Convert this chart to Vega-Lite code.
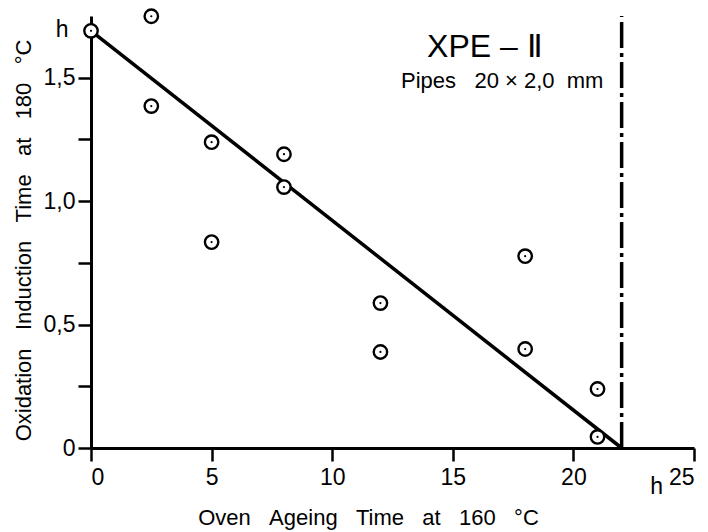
{
  "$schema": "https://vega.github.io/schema/vega-lite/v6.json",
  "autosize": "none",
  "width": 603,
  "height": 432,
  "padding": {"left": 91, "top": 16, "right": 14, "bottom": 84},
  "background": "white",
  "config": {
    "view": {"stroke": null},
    "font": "Liberation Sans",
    "axis": {
      "grid": false,
      "domainColor": "black",
      "domainWidth": 3,
      "tickColor": "black",
      "tickWidth": 2.5,
      "tickSize": 13,
      "labelColor": "black",
      "labelFont": "Liberation Sans",
      "labelFontSize": 23,
      "titleColor": "black",
      "titleFont": "Liberation Sans",
      "titleFontSize": 22,
      "titleFontWeight": "normal"
    }
  },
  "datasets": {
    "obs": [
      {"t": 0, "oit": 1.69},
      {"t": 2.5, "oit": 1.749},
      {"t": 2.5, "oit": 1.385},
      {"t": 5, "oit": 1.239},
      {"t": 5, "oit": 0.834},
      {"t": 8, "oit": 1.19},
      {"t": 8, "oit": 1.057},
      {"t": 12, "oit": 0.587},
      {"t": 12, "oit": 0.389},
      {"t": 18, "oit": 0.777},
      {"t": 18, "oit": 0.401},
      {"t": 21, "oit": 0.239},
      {"t": 21, "oit": 0.045}
    ],
    "fit": [
      {"t": 0, "oit": 1.69},
      {"t": 22, "oit": 0}
    ],
    "limit": [
      {"t": 22, "oit": 0, "oit2": 1.75}
    ],
    "labels": [
      {"t": -1.2, "oit": 1.695, "txt": "h", "size": 23},
      {"t": 23.45, "oit": -0.16, "txt": "h", "size": 23},
      {"t": 16.33, "oit": 1.625, "txt": "XPE – Ⅱ", "size": 32},
      {"t": 17.05, "oit": 1.485, "txt": "Pipes\u00a0\u00a0\u00a020 × 2,0\u00a0\u00a0mm", "size": 22}
    ]
  },
  "encoding": {
    "x": {
      "field": "t",
      "type": "quantitative",
      "scale": {"domain": [0, 25], "nice": false, "zero": false},
      "axis": {
        "values": [0, 5, 10, 15, 20, 25],
        "labelPadding": 5,
        "title": "Oven\u00a0\u00a0\u00a0Ageing\u00a0\u00a0\u00a0Time\u00a0\u00a0\u00a0at\u00a0\u00a0\u00a0160\u00a0\u00a0\u00a0°C",
        "titleX": 277,
        "titleY": 76,
        "titleAlign": "center",
        "titleBaseline": "alphabetic"
      }
    },
    "y": {
      "field": "oit",
      "type": "quantitative",
      "scale": {"domain": [0, 1.75], "nice": false, "zero": false},
      "axis": {
        "values": [0, 0.25, 0.5, 0.75, 1, 1.25, 1.5],
        "labelExpr": "datum.value == 0 ? '0' : (abs(datum.value % 0.5) < 0.001 ? replace(format(datum.value, '.1f'), '.', ',') : '')",
        "labelPadding": 3,
        "title": "Oxidation\u00a0\u00a0\u00a0Induction\u00a0\u00a0\u00a0Time\u00a0\u00a0\u00a0at\u00a0\u00a0\u00a0180\u00a0\u00a0\u00a0°C",
        "titleX": -61,
        "titleY": 224,
        "titleAngle": -90,
        "titleAlign": "center",
        "titleBaseline": "alphabetic"
      }
    }
  },
  "layer": [
    {
      "data": {"name": "fit"},
      "mark": {"type": "line", "color": "black", "strokeWidth": 3.5, "clip": false}
    },
    {
      "data": {"name": "limit"},
      "mark": {"type": "rule", "color": "black", "strokeWidth": 3.5, "strokeDash": [26, 5, 4, 5]},
      "encoding": {"y2": {"field": "oit2"}}
    },
    {
      "data": {"name": "obs"},
      "mark": {"type": "point", "shape": "circle", "filled": false, "fill": "white", "fillOpacity": 1, "stroke": "black", "strokeWidth": 2.4, "size": 180, "opacity": 1, "clip": false}
    },
    {
      "data": {"name": "obs"},
      "mark": {"type": "point", "shape": "circle", "filled": true, "color": "black", "size": 5, "opacity": 1, "clip": false}
    },
    {
      "data": {"name": "labels"},
      "mark": {"type": "text", "color": "black", "align": "center", "baseline": "middle", "font": "Liberation Sans", "clip": false},
      "encoding": {
        "text": {"field": "txt"},
        "size": {"field": "size", "type": "quantitative", "scale": null}
      }
    }
  ]
}
